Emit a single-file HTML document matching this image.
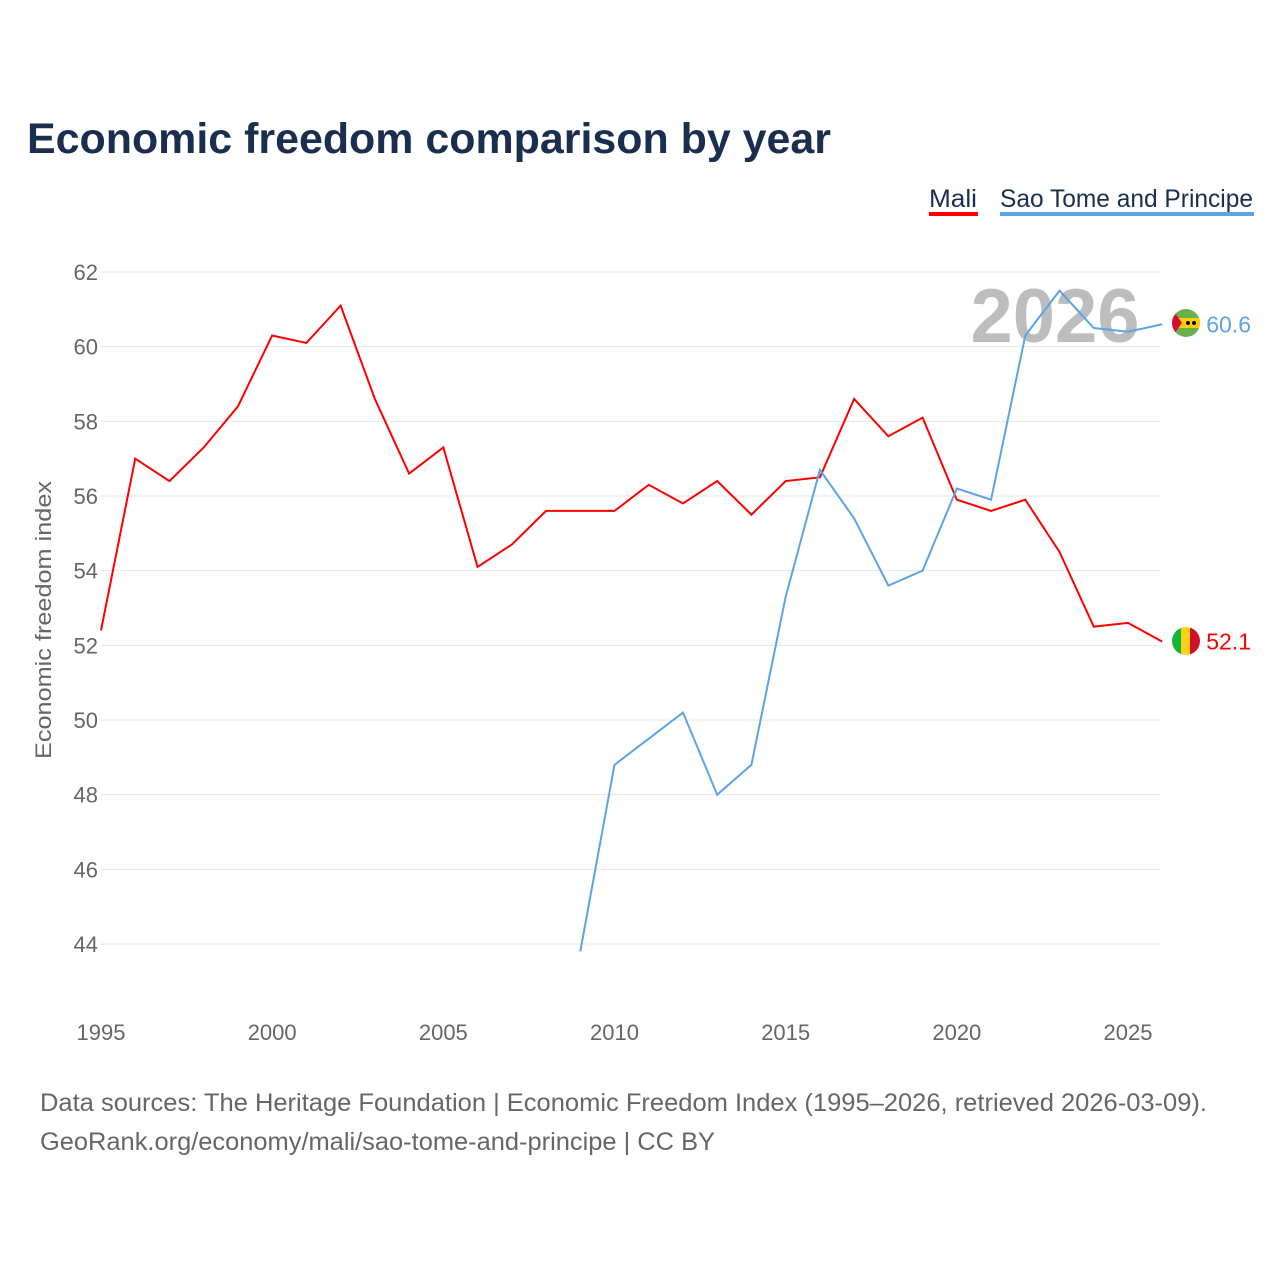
<!DOCTYPE html>
<html><head><meta charset="utf-8"><style>
body{margin:0;background:#fff;font-family:"Liberation Sans",sans-serif;}
svg{display:block}
</style></head><body>
<svg width="1280" height="1280">
<defs>
<clipPath id="c1"><circle cx="1186" cy="641" r="14"/></clipPath>
<clipPath id="c2"><circle cx="1186" cy="323" r="14"/></clipPath>
</defs>
<text x="27" y="153" font-size="43" font-weight="bold" fill="#1a2e4f" textLength="804" lengthAdjust="spacingAndGlyphs">Economic freedom comparison by year</text>
<g>
<text x="929" y="207" font-size="25" fill="#1a2e4f" textLength="48" lengthAdjust="spacingAndGlyphs">Mali</text>
<rect x="929" y="212" width="49" height="4" fill="#f00"/>
<text x="1000" y="207" font-size="25" fill="#1a2e4f" textLength="253" lengthAdjust="spacingAndGlyphs">Sao Tome and Principe</text>
<rect x="1000" y="212" width="254" height="4" fill="#5ba4e6"/>
</g>
<g id="grid"></g><g id="ylab"></g><g id="xlab"></g>
<text x="1055" y="342" font-size="76" font-weight="bold" fill="#bdbdbd" text-anchor="middle">2026</text>
<g id="lines"></g>
<g clip-path="url(#c1)">
<rect x="1172" y="627" width="10" height="28" fill="#14b53a"/><rect x="1181" y="627" width="10" height="28" fill="#fcd116"/><rect x="1190" y="627" width="10" height="28" fill="#ce1126"/>
</g>
<g clip-path="url(#c2)">
<rect x="1172" y="309" width="28" height="28" fill="#6ab04c"/><rect x="1172" y="318" width="28" height="10" fill="#ffce00"/>
<polygon points="1172,309 1182,323 1172,337" fill="#d21034"/>
<circle cx="1188" cy="323" r="2" fill="#000"/><circle cx="1194" cy="323" r="2" fill="#000"/>
</g>
<text transform="translate(51,620) rotate(-90)" font-size="22" fill="#666" text-anchor="middle" textLength="278" lengthAdjust="spacingAndGlyphs">Economic freedom index</text>
<text x="40" y="1111" font-size="25" fill="#666" textLength="1167" lengthAdjust="spacingAndGlyphs">Data sources: The Heritage Foundation | Economic Freedom Index (1995–2026, retrieved 2026-03-09).</text>
<text x="40" y="1150" font-size="25" fill="#666" textLength="675" lengthAdjust="spacingAndGlyphs">GeoRank.org/economy/mali/sao-tome-and-principe | CC BY</text>
</svg>
<script>
const yTicks=[44,46,48,50,52,54,56,58,60,62];
const xTicks=[1995,2000,2005,2010,2015,2020,2025];
const maliYears=[1995,1996,1997,1998,1999,2000,2001,2002,2003,2004,2005,2006,2007,2008,2009,2010,2011,2012,2013,2014,2015,2016,2017,2018,2019,2020,2021,2022,2023,2024,2025,2026];
const maliValues=[52.4,57.0,56.4,57.3,58.4,60.3,60.1,61.1,58.6,56.6,57.3,54.1,54.7,55.6,55.6,55.6,56.3,55.8,56.4,55.5,56.4,56.5,58.6,57.6,58.1,55.9,55.6,55.9,54.5,52.5,52.6,52.1];
const stpYears=[2009,2010,2011,2012,2013,2014,2015,2016,2017,2018,2019,2020,2021,2022,2023,2024,2025,2026];
const stpValues=[43.8,48.8,49.5,50.2,48.0,48.8,53.3,56.7,55.4,53.6,54.0,56.2,55.9,60.3,61.5,60.5,60.4,60.6];
const NS="http://www.w3.org/2000/svg";
const xS=y=>101+(y-1995)*(1128-101)/30;
const yS=v=>272+(62-v)*(944-272)/18;
function mk(t,a,p,txt){const e=document.createElementNS(NS,t);for(const k in a)e.setAttribute(k,a[k]);if(txt!==undefined)e.textContent=txt;document.getElementById(p).appendChild(e);return e;}
yTicks.forEach(v=>{
 const l=mk('line',{x1:101,x2:1161,y1:yS(v),y2:yS(v),stroke:'#e6e6e6','stroke-width':1},'grid');
 
 
 const t=mk('text',{x:98,y:yS(v)+8,'font-size':22,fill:'#666','text-anchor':'end'},'ylab',v);
 
 
});
xTicks.forEach(y=>{
 const t=mk('text',{x:xS(y),y:1040,'font-size':22,fill:'#666','text-anchor':'middle'},'xlab',y);
 
 
});
function series(ys,vs,col,name){
 const p=mk('polyline',{points:ys.map((y,i)=>xS(y)+','+yS(vs[i])).join(' '),fill:'none',stroke:col,'stroke-width':2},'lines');
 
 
 const lx=xS(ys[ys.length-1]),ly=yS(vs[vs.length-1]);
 const t=mk('text',{x:lx+44,y:ly+8,'font-size':23,fill:col},'lines',vs[vs.length-1].toFixed(1));
 
 
}
series(maliYears,maliValues,'#ff0000','mali');
series(stpYears,stpValues,'#5ba4e6','sao-tome');
</script>
</body></html>
